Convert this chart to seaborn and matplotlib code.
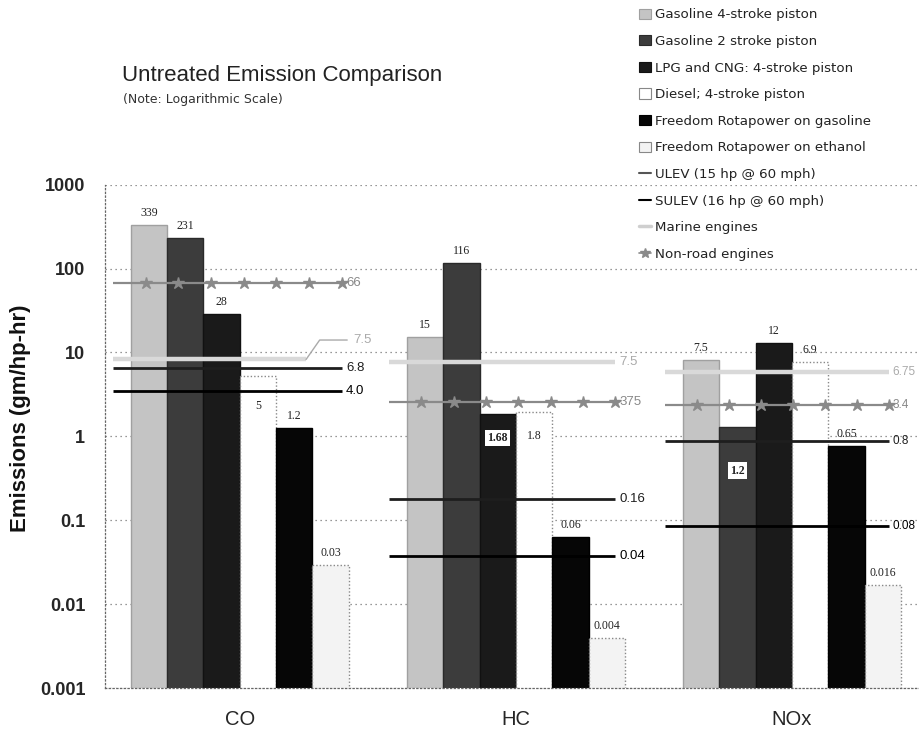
import numpy as np
import pandas as pd
import matplotlib
matplotlib.use("Agg")
import matplotlib.pyplot as plt
from matplotlib.patches import Patch
from matplotlib.lines import Line2D
import seaborn as sns

sns.set_theme(style="white")
plt.rcParams['font.family'] = ['Liberation Sans', 'DejaVu Sans']

# ---------------- data ----------------
pollutants = ["CO", "HC", "NOx"]
engines = ["Gasoline 4-stroke piston", "Gasoline 2 stroke piston",
           "LPG and CNG: 4-stroke piston", "Diesel; 4-stroke piston",
           "Freedom Rotapower on gasoline", "Freedom Rotapower on ethanol"]
# bar heights per engine (CO, HC, NOx)
gas4 = [330, 15.5, 8.2]
gas2 = [231, 116, 1.3]
lpg = [29, 1.85, 12.8]
diesel = [5.2, 1.95, 7.8]
rota_gas = [1.25, 0.063, 0.76]
rota_eth = [0.029, 0.0039, 0.0168]
# printed value labels
gas4_lbl = ["339", "15", "7.5"]
gas2_lbl = ["231", "116", "1.2"]
lpg_lbl = ["28", "1.68", "12"]
diesel_lbl = ["5", "1.8", "6.9"]
rota_gas_lbl = ["1.2", "0.06", "0.65"]
rota_eth_lbl = ["0.03", "0.004", "0.016"]

# reference standards (CO, HC, NOx)
ulev = [6.6, 0.18, 0.87]
ulev_lbl = ["6.8", "0.16", "0.8"]
sulev = [3.5, 0.037, 0.085]
sulev_lbl = ["4.0", "0.04", "0.08"]
marine = [8.25, 7.8, 5.8]
marine_lbl = ["7.5", "7.5", "6.75"]
nonroad = [68, 2.6, 2.34]
nonroad_lbl = ["66", "375", "3.4"]

yticks = [0.001, 0.01, 0.1, 1, 10, 100, 1000]
ytick_lbls = ["0.001", "0.01", "0.1", "1", "10", "100", "1000"]

values = [gas4, gas2, lpg, diesel, rota_gas, rota_eth]
labels = [gas4_lbl, gas2_lbl, lpg_lbl, diesel_lbl, rota_gas_lbl, rota_eth_lbl]
df = pd.DataFrame([(p, e, v[i]) for e, v in zip(engines, values)
                   for i, p in enumerate(pollutants)],
                  columns=["pollutant", "engine", "value"])

# ---------------- style ----------------
bar_colors = ["#c4c4c4", "#3c3c3c", "#1a1a1a", "#ffffff", "#060606", "#f3f3f3"]
bar_edges = ["#a0a0a0", "#2a2a2a", "#111111", "#888888", "#000000", "#888888"]

fig = plt.figure(figsize=(9.19, 7.3), dpi=100)
ax = fig.add_axes([0.114, 0.0575, 0.886, 0.6895])
ax.set_yscale("log")

sns.barplot(data=df, x="pollutant", y="value", hue="engine", order=pollutants,
            hue_order=engines, palette=bar_colors, width=0.79, saturation=1,
            legend=False, ax=ax, zorder=2)

for k, cont in enumerate(ax.containers):
    for bar in cont:
        bar.set_edgecolor(bar_edges[k])
        bar.set_linewidth(1.0)
        if k in (3, 5):
            bar.set_linestyle((0, (1, 1.5)))

ax.set_ylim(0.001, 1000)
ax.set_xlim(-0.489, 2.46)
ax.set_yticks(yticks)
ax.set_yticklabels(ytick_lbls, fontsize=13, fontweight="bold")
ax.minorticks_off()
ax.tick_params(axis="y", length=4, width=0.8, color="#777777", pad=10)
ax.tick_params(axis="x", length=0, pad=16, labelsize=14.5)
ax.set_xlabel("")
ax.set_ylabel("Emissions (gm/hp-hr)", fontsize=16, fontweight="bold", color="#111111")
ax.yaxis.set_label_coords(-0.09, 0.535)
ax.grid(axis="y", which="major", linestyle=(0, (1, 3)), color="#777777", linewidth=0.9, zorder=0)
ax.set_axisbelow(True)
for s in ["top", "right"]:
    ax.spines[s].set_visible(False)
for s in ["left", "bottom"]:
    ax.spines[s].set_linestyle((0, (1, 2)))
    ax.spines[s].set_color("#666666")
    ax.spines[s].set_linewidth(0.9)

# ---------------- bar value labels ----------------
# placement: (dx px, dy px, boxed)
place = {
    (3, 0): (0, -24, False),
    (2, 1): (0, -18, True),
    (3, 1): (0, -18, False),
    (1, 2): (0, -38, True),
}
for k, cont in enumerate(ax.containers):
    for j, bar in enumerate(cont):
        x = bar.get_x() + bar.get_width() / 2
        h = bar.get_height()
        dx, dy, boxed = place.get((k, j), (0, 6, False))
        va = "bottom" if dy > 0 else "top"
        kw = {}
        if boxed:
            kw["bbox"] = dict(boxstyle="square,pad=0.2", fc="white", ec="none")
        ax.annotate(labels[k][j], (x, h), xytext=(dx, dy * 0.72),
                    textcoords="offset points", ha="center", va=va,
                    fontsize=8.5, family="Liberation Serif", color="#222222",
                    fontweight="bold" if boxed else "normal", zorder=6, **kw)

# ---------------- reference lines ----------------
x0_off = -0.46
def draw_std(vals, lbls, color, lw, marker=None, zorder=4, lblcolor=None,
             ends=(0.37, 0.36, 0.35)):
    for j, (v, t) in enumerate(zip(vals, lbls)):
        x1 = j + ends[j]
        xs = np.linspace(j + x0_off, x1, 8)
        ax.plot(xs, [v] * len(xs), color=color, lw=lw, marker=marker,
                markersize=9, markevery=slice(1, 8), zorder=zorder,
                solid_capstyle="butt", clip_on=False)
        if not (t == "7.5" and j == 0):
            ax.annotate(t, (x1, v), xytext=(3, 0), textcoords="offset points",
                        va="center", ha="left", fontsize=9.5 if j < 2 else 8.5,
                        color=lblcolor or color, zorder=6, annotation_clip=False)

draw_std(marine, marine_lbl, "#d9d9d9", 3.2, zorder=4, lblcolor="#aaaaaa",
         ends=(0.24, 0.36, 0.35))
draw_std(nonroad, nonroad_lbl, "#8a8a8a", 1.6, marker="*", zorder=4, lblcolor="#888888")
draw_std(ulev, ulev_lbl, "#1e1e1e", 2.0, zorder=5)
draw_std(sulev, sulev_lbl, "#000000", 2.0, zorder=5)

# CO marine label with leader
ax.annotate(marine_lbl[0], (0 + 0.24, marine[0]), xytext=(34, 14), textcoords="offset points",
            va="center", ha="left", fontsize=9.5, color="#aaaaaa", zorder=6,
            arrowprops=dict(arrowstyle="-", color="#aaaaaa", lw=1, shrinkA=2, shrinkB=0,
                            connectionstyle="angle,angleA=0,angleB=55,rad=0"))

# ---------------- titles ----------------
fig.text(122 / 919, 1 - 75 / 730, "Untreated Emission Comparison", fontsize=16,
         va="center", ha="left", color="#222222")
fig.text(123 / 919, 1 - 99 / 730, "(Note: Logarithmic Scale)", fontsize=9,
         family="DejaVu Sans", va="center", ha="left", color="#333333")

# ---------------- legend ----------------
handles = [Patch(facecolor=bar_colors[i], edgecolor=bar_edges[i], linewidth=0.8)
           for i in range(6)]
handles += [Line2D([], [], color="#555555", lw=1.5),
            Line2D([], [], color="#000000", lw=1.5),
            Line2D([], [], color="#cfcfcf", lw=2.5),
            Line2D([], [], color="#8a8a8a", lw=1.2, marker="*", markersize=7)]
leg_labels = engines + ["ULEV (15 hp @ 60 mph)", "SULEV (16 hp @ 60 mph)",
                        "Marine engines", "Non-road engines"]
fig.legend(handles, leg_labels, loc="upper left", bbox_to_anchor=(630 / 919, 1 + 1 / 730),
           frameon=False, prop={"family": "DejaVu Sans", "size": 9.6},
           handlelength=0.9, handleheight=0.8,
           handletextpad=0.25, labelspacing=1.02, borderpad=0.2, labelcolor="#222222")

fig.savefig("out.png", dpi=100)
